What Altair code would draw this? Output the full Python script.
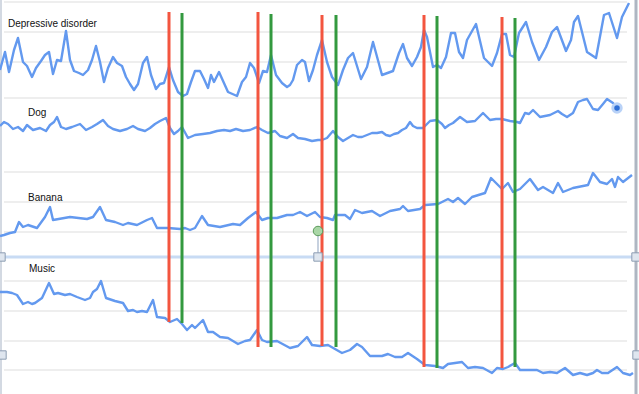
import altair as alt
import pandas as pd

# ---- data (t = time position, v = depth of the line from the top) ----
dep = [(0,70),(5,52),(9,72),(14,50),(18,38),(23,62),(27,66),(32,77),(36,68),(41,61),(45,55),(49,52),
       (53,74),(57,60),(61,61),(66,31),(70,60),(74,71),(79,73),(83,75),(88,70),(92,60),(96,46),(100,62),
       (104,82),(108,68),(113,57),(117,63),(122,66),(126,77),(130,84),(134,90),(138,84),(143,63),(147,57),
       (151,75),(156,89),(160,84),(164,83),(169,67),(173,80),(178,92),(183,96),(187,94),(191,82),(195,71),
       (200,71),(204,79),(208,88),(211,75),(214,82),(219,72),(228,92),(237,96),(242,82),(246,77),(250,63),
       (254,68),(259,83),(263,71),(267,72),(271,55),(276,75),(282,83),(287,87),(290,85),(293,80),(297,65),
       (302,60),(305,62),(309,81),(313,70),(317,55),(322,40),(327,62),(332,77),(338,85),(343,70),(348,58),
       (353,53),(361,79),(367,67),(373,42),(382,75),(393,71),(399,53),(403,44),(407,58),(412,66),(417,57),
       (421,47),(424,30),(427,37),(433,67),(437,65),(441,68),(446,57),(451,33),(455,33),(459,52),(463,58),
       (467,40),(476,24),(484,58),(492,66),(497,53),(502,34),(506,34),(510,55),(514,57),(519,33),(526,22),
       (532,42),(539,60),(546,47),(552,32),(557,27),(566,51),(571,40),(574,22),(578,16),(587,52),(596,58),
       (604,15),(609,13),(617,38),(622,17),(629,3)]

dog = [(0,126),(4,122),(8,124),(13,129),(18,127),(23,131),(27,125),(33,130),(40,128),(46,131),(50,125),
       (54,122),(57,117),(61,127),(66,129),(72,127),(80,124),(86,130),(92,127),(97,124),(103,120),(108,126),
       (113,129),(120,131),(127,129),(133,126),(138,129),(145,131),(150,128),(155,124),(160,121),(166,118),
       (170,128),(174,134),(178,131),(182,127),(188,138),(195,135),(203,134),(210,133),(217,131),(224,130),
       (230,131),(236,129),(243,131),(250,130),(257,127),(262,130),(268,133),(275,131),(280,136),(287,138),
       (293,134),(298,138),(305,139),(312,141),(318,140),(322,140),(327,138),(333,131),(338,137),(343,141),
       (348,138),(353,135),(358,137),(362,137),(367,135),(372,133),(377,133),(382,132),(386,135),(390,136),
       (394,134),(398,133),(402,130),(406,128),(410,122),(413,126),(417,128),(423,128),(427,124),(430,121),
       (437,120),(442,124),(445,128),(449,125),(453,123),(460,117),(467,122),(475,121),(479,117),(483,113),
       (490,120),(496,119),(502,119),(510,121),(517,122),(520,123),(525,113),(529,114),(533,110),(540,117),
       (545,116),(550,115),(558,111),(562,114),(567,117),(573,113),(578,102),(583,100),(587,99),(593,109),
       (598,110),(603,104),(607,99),(613,103),(618,108),(620,106)]

banana = [(0,236),(4,235),(10,233),(15,232),(19,222),(23,227),(28,225),(37,228),(45,217),(50,207),(53,220),
          (70,217),(87,219),(93,217),(100,207),(106,220),(115,222),(123,225),(128,223),(137,225),(147,220),
          (152,218),(157,228),(168,228),(180,229),(185,228),(190,230),(195,228),(202,216),(208,225),(220,227),
          (233,224),(240,225),(248,218),(256,212),(262,220),(268,218),(277,218),(287,215),(293,215),(300,212),
          (307,216),(315,212),(320,217),(327,218),(333,220),(335,215),(345,215),(350,219),(355,210),(362,213),
          (372,211),(380,216),(390,211),(400,209),(403,206),(408,211),(420,209),(425,205),(438,204),(448,199),
          (453,202),(458,198),(465,204),(472,197),(485,193),(491,178),(502,189),(508,183),(513,192),(520,189),
          (530,179),(538,190),(543,187),(553,193),(558,183),(563,192),(573,188),(588,185),(593,173),(600,182),
          (607,184),(612,179),(615,187),(618,177),(623,182),(632,175)]

music = [(0,292),(7,292),(12,293),(17,295),(23,304),(28,302),(32,304),(35,303),(42,298),(49,283),(54,294),
         (58,293),(65,295),(70,294),(77,297),(85,300),(90,298),(93,292),(97,289),(101,281),(106,298),(115,301),
         (123,303),(128,311),(133,310),(137,312),(142,311),(147,312),(153,300),(157,317),(165,318),(170,322),
         (177,319),(182,324),(187,330),(192,325),(195,328),(203,320),(208,332),(213,332),(220,337),(228,338),
         (238,344),(245,341),(250,340),(257,330),(262,340),(267,342),(277,341),(290,348),(298,346),(307,337),
         (312,345),(320,346),(328,345),(335,349),(342,353),(350,350),(357,344),(362,347),(370,356),(382,356),
         (388,354),(395,357),(402,357),(408,353),(417,359),(425,365),(435,366),(443,368),(448,364),(455,363),
         (462,362),(468,368),(475,367),(483,368),(492,373),(497,368),(503,369),(508,367),(515,363),(520,370),
         (537,370),(543,373),(550,372),(557,373),(565,368),(573,375),(580,373),(587,375),(593,373),(597,370),
         (602,373),(608,373),(617,367),(623,373),(630,375),(633,373)]

series_names = ["Depressive disorder", "Dog", "Banana", "Music"]
series_data = [dep, dog, banana, music]
label_pos = [(8, 24), (28, 113), (28, 198), (29, 269)]

event_kind = ["red", "green", "red", "green", "red", "green", "red", "green", "red", "green"]
event_t = [169, 182, 258, 271, 322, 336, 424, 437, 502, 515]
event_top = [12, 13, 12, 14, 15, 15, 15, 16, 17, 18]
event_bottom = [322, 323, 347, 347, 346, 347, 367, 368, 368, 367]

grid_levels = [2, 32, 62, 98, 172, 202, 232, 281, 311, 341, 370]

# ---- tables ----
rows = []
for name, pts in zip(series_names, series_data):
    for t, v in pts:
        rows.append({"series": name, "t": t, "v": v})
lines_df = pd.DataFrame(rows)
labels_df = pd.DataFrame({"series": series_names,
                          "t": [p[0] for p in label_pos], "v": [p[1] for p in label_pos]})
events_df = pd.DataFrame({"kind": event_kind, "t": event_t, "top": event_top, "bottom": event_bottom})
grid_df = pd.DataFrame({"v": grid_levels})

X = alt.Scale(domain=[0, 639], nice=False, zero=False)
Y = alt.Scale(domain=[0, 394], reverse=True, nice=False, zero=False)

def xs(f="t"):
    return alt.X(f, type="quantitative", scale=X, axis=None)

def ys(f="v"):
    return alt.Y(f, type="quantitative", scale=Y, axis=None)

grid = alt.Chart(grid_df).mark_rule(color="#eeeeee", strokeWidth=2).encode(
    y=ys(), x=alt.value(4), x2=alt.value(627))

lines = alt.Chart(lines_df).mark_line(color="#6399ef", strokeWidth=2.4, strokeJoin="round").encode(
    x=xs(), y=ys(), detail="series:N", order="t:Q")

events = alt.Chart(events_df).mark_rule(strokeWidth=3).encode(
    x=xs(), y=ys("top"), y2="bottom",
    color=alt.Color("kind:N", scale=alt.Scale(domain=["red", "green"], range=["#f3553f", "#33993f"]),
                    legend=None))

labels = alt.Chart(labels_df).mark_text(align="left", baseline="middle", font="Liberation Sans",
                                        fontSize=10, color="#111111").encode(
    x=xs(), y=ys(), text="series:N")

# selection widget (horizontal guide, handles, stem and knob)
guide_df = pd.DataFrame({"v": [257]})
guide = alt.Chart(guide_df).mark_rule(color="#c8dbf4", strokeWidth=3).encode(
    y=ys(), x=alt.value(0), x2=alt.value(639))

stem_df = pd.DataFrame({"t": [318], "top": [231], "bottom": [257]})
stem = alt.Chart(stem_df).mark_rule(color="#8fa3bf", strokeWidth=1).encode(
    x=xs(), y=ys("top"), y2="bottom")

handles_df = pd.DataFrame({"t": [1, 318, 636, 2, 637], "v": [257, 257, 257, 355, 355]})
handles = alt.Chart(handles_df).mark_square(size=70, fill="#dfe6ef", stroke="#8e9db3",
                                             strokeWidth=1, opacity=1, cornerRadius=2).encode(
    x=xs(), y=ys())

knob_df = pd.DataFrame({"t": [318], "v": [231]})
knob = alt.Chart(knob_df).mark_circle(size=90, fill="#a9d6a6", stroke="#5b9b5b",
                                      strokeWidth=1, opacity=1).encode(x=xs(), y=ys())

borders_df = pd.DataFrame({"t": [1, 636], "w": ["l", "r"]})
left_border = alt.Chart(borders_df[borders_df.w == "l"]).mark_rule(color="#c5cdd8", strokeWidth=1.5).encode(
    x=xs(), y=alt.value(0), y2=alt.value(394))
right_border = alt.Chart(borders_df[borders_df.w == "r"]).mark_rule(color="#aeb6c2", strokeWidth=3).encode(
    x=xs(), y=alt.value(0), y2=alt.value(394))

end_df = pd.DataFrame({"t": [617], "v": [108]})
end_ring = alt.Chart(end_df).mark_circle(size=130, color="#b9d2f7", opacity=1).encode(x=xs(), y=ys())
end_dot = alt.Chart(end_df).mark_circle(size=30, color="#2f6fd6", opacity=1).encode(x=xs(), y=ys())

chart = alt.layer(
    grid, guide, left_border, right_border, lines, events, stem, handles, knob,
    end_ring, end_dot, labels
).properties(
    width=639, height=394, autosize=alt.AutoSizeParams(type="none"), padding=0,
    background="white"
).configure_view(stroke=None)

chart.save("out.html", embed_options={"renderer": "svg", "actions": False})
